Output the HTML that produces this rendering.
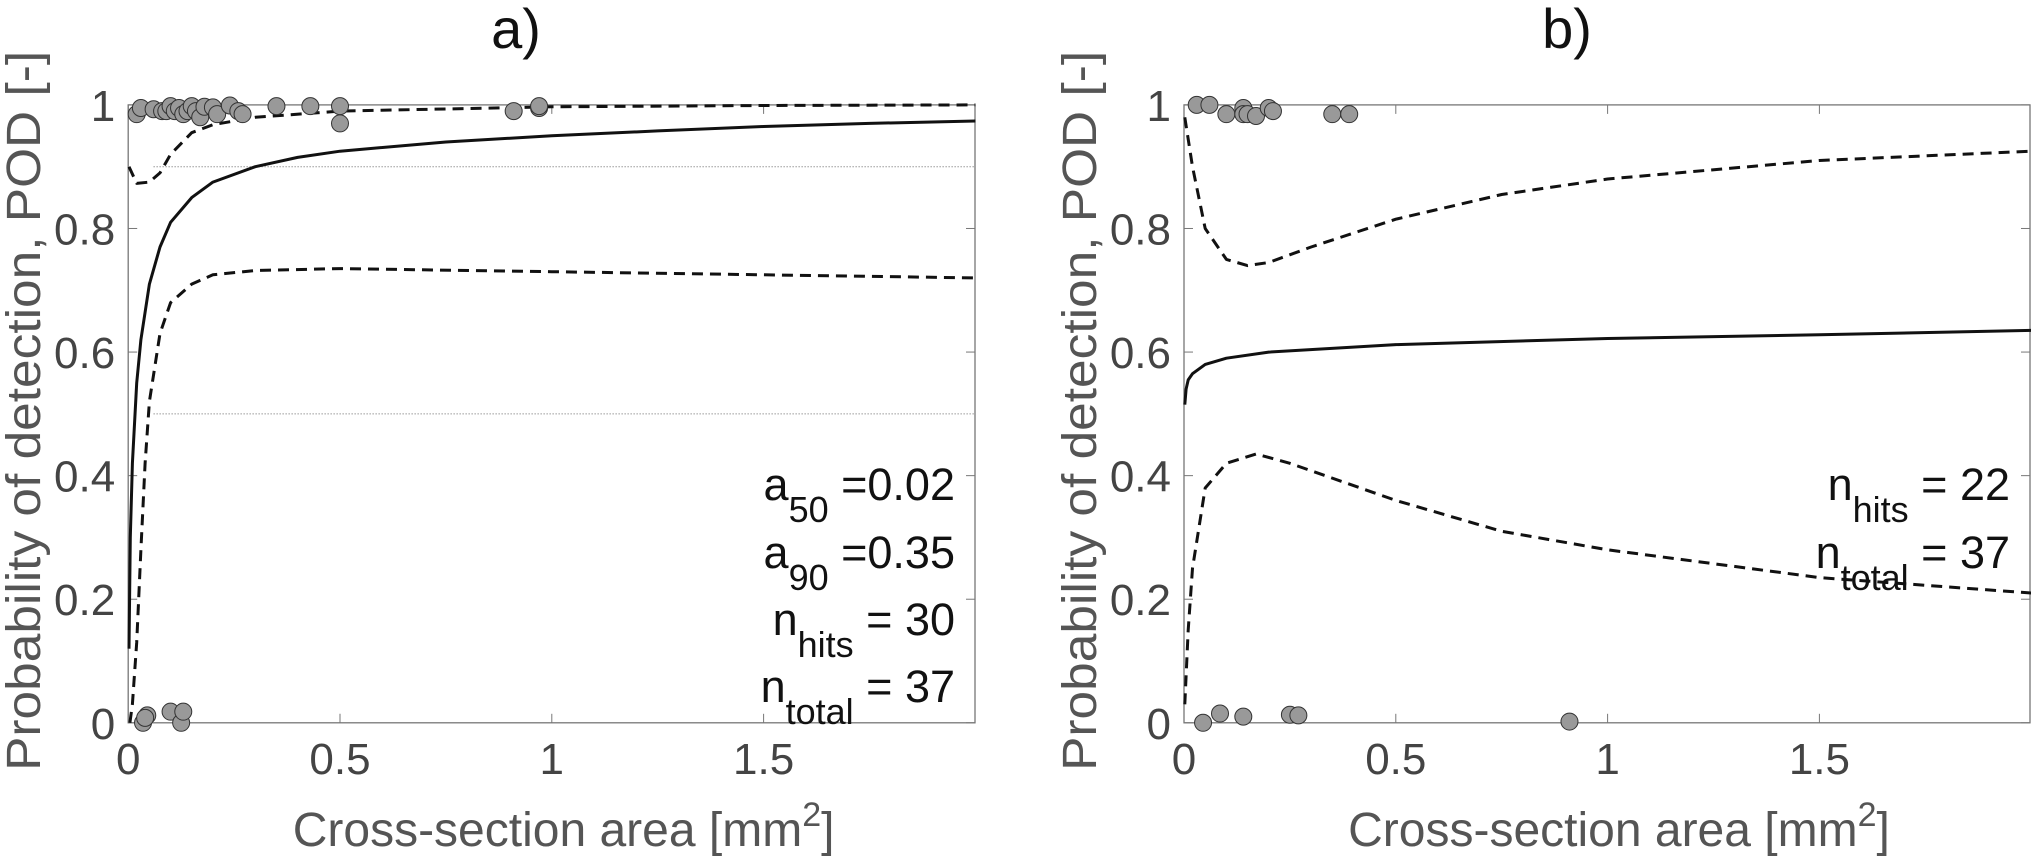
<!DOCTYPE html>
<html><head><meta charset="utf-8"><style>
html,body{margin:0;padding:0;background:#fff;}
svg{display:block;font-family:"Liberation Sans",sans-serif;}
</style></head><body>
<svg id="fig" width="2031" height="861" viewBox="0 0 2031 861"></svg>
<script>
const xTicks=[0,0.5,1,1.5];
const xTickLabels=["0","0.5","1","1.5"];
const yTicks=[0,0.2,0.4,0.6,0.8,1];
const yTickLabels=["0","0.2","0.4","0.6","0.8","1"];
const gridA=[0.5,0.9];

const aSolidX=[0.002,0.005,0.01,0.02,0.03,0.05,0.075,0.1,0.15,0.2,0.3,0.4,0.5,0.75,1,1.25,1.5,1.75,2];
const aSolidY=[0.12,0.3,0.42,0.55,0.62,0.71,0.77,0.81,0.85,0.875,0.9,0.915,0.925,0.94,0.95,0.958,0.965,0.97,0.974];
const aLowX=[0.004,0.01,0.02,0.03,0.04,0.05,0.075,0.1,0.15,0.2,0.3,0.5,1,1.5,2];
const aLowY=[0.0,0.03,0.13,0.28,0.42,0.52,0.63,0.68,0.71,0.725,0.732,0.735,0.73,0.725,0.72];
const aUpX=[0.002,0.02,0.05,0.075,0.1,0.15,0.2,0.3,0.5,1,1.5,2];
const aUpY=[0.9,0.873,0.875,0.89,0.92,0.955,0.968,0.98,0.99,0.997,0.999,1.0];
const aPtsX=[0.02,0.03,0.06,0.08,0.09,0.1,0.11,0.12,0.13,0.14,0.15,0.16,0.17,0.18,0.2,0.21,0.24,0.26,0.27,0.35,0.43,0.5,0.5,0.91,0.97,0.97,0.035,0.045,0.1,0.125,0.13,0.04];
const aPtsY=[0.985,0.995,0.993,0.99,0.99,0.998,0.99,0.995,0.985,0.99,0.998,0.99,0.98,0.997,0.996,0.985,0.999,0.99,0.985,0.998,0.998,0.998,0.97,0.99,0.995,0.998,0.0,0.012,0.018,0.0,0.018,0.008];

const bSolidX=[0.002,0.005,0.01,0.02,0.05,0.1,0.2,0.5,1,1.5,2];
const bSolidY=[0.515,0.54,0.555,0.565,0.58,0.59,0.6,0.612,0.622,0.628,0.635];
const bUpX=[0.002,0.02,0.05,0.1,0.15,0.2,0.3,0.5,0.75,1,1.5,2];
const bUpY=[0.98,0.9,0.8,0.75,0.74,0.745,0.77,0.815,0.855,0.88,0.91,0.925];
const bLowX=[0.002,0.01,0.02,0.05,0.1,0.17,0.25,0.5,0.75,1,1.5,2];
const bLowY=[0.03,0.15,0.25,0.38,0.42,0.435,0.42,0.36,0.31,0.28,0.235,0.21];
const bPtsX=[0.03,0.06,0.1,0.14,0.14,0.15,0.17,0.2,0.21,0.35,0.39,0.045,0.085,0.14,0.25,0.27,0.91];
const bPtsY=[1,1,0.985,0.995,0.985,0.985,0.982,0.995,0.99,0.985,0.985,0.0,0.015,0.01,0.013,0.012,0.002];

const NS="http://www.w3.org/2000/svg";
const svg=document.getElementById('fig');
function mk(t,a,p){const e=document.createElementNS(NS,t);for(const k in a)e.setAttribute(k,a[k]);(p||svg).appendChild(e);return e;}
const Y0=722.8,Y1=104.9;
function ys(v){return Y0-(Y0-Y1)*v;}
function panel(id,x0,right,title,titleX){
  const g=mk('g',{});
  
  
  const k=423.6;
  const xs=v=>x0+v*k;
  const o={g,xs,x0,right};
  const t=mk('text',{x:titleX,y:48,'font-size':56,'text-anchor':'middle',fill:'#111'},g);t.textContent=title;
  
  const ax=mk('rect',{x:x0,y:Y1,width:right-x0,height:Y0-Y1,fill:'none',stroke:'#777','stroke-width':1.3},g);
  
  xTicks.forEach((v,i)=>{
    mk('line',{x1:xs(v),x2:xs(v),y1:Y0,y2:Y0-9,stroke:'#777'},g);
    mk('line',{x1:xs(v),x2:xs(v),y1:Y1,y2:Y1+9,stroke:'#777'},g);
    const l=mk('text',{x:xs(v),y:774,'font-size':44,'text-anchor':'middle',fill:'#444'},g);l.textContent=xTickLabels[i];
    
  });
  yTicks.forEach((v,i)=>{
    mk('line',{x1:x0,x2:x0+9,y1:ys(v),y2:ys(v),stroke:'#777'},g);
    mk('line',{x1:right,x2:right-9,y1:ys(v),y2:ys(v),stroke:'#777'},g);
    const l=mk('text',{x:x0-13,y:ys(v)+16,'font-size':44,'text-anchor':'end',fill:'#444'},g);l.textContent=yTickLabels[i];
    
  });
  const xl=mk('text',{x:(x0+right)/2+12,y:846,'font-size':48,'text-anchor':'middle',fill:'#555'},g);
  xl.innerHTML='Cross-section area [mm<tspan dy="-20" font-size="34">2</tspan><tspan dy="20">]</tspan>';
  
  const yl=mk('text',{x:0,y:0,'font-size':48,'text-anchor':'middle',fill:'#555',textLength:720,lengthAdjust:'spacingAndGlyphs',transform:`translate(${x0-88},${(Y0+Y1)/2-3}) rotate(-90)`},g);
  yl.textContent='Probability of detection, POD [-]';
  
  return o;
}
function line(o,X,Y,dash,name){
  const d=X.map((x,i)=>(i?'L':'M')+o.xs(x).toFixed(1)+','+ys(Y[i]).toFixed(1)).join('');
  const p=mk('path',{d,fill:'none',stroke:'#111','stroke-width':3,'stroke-dasharray':dash?'11,7':'none','stroke-linejoin':'round'},o.g);
  
}
function pts(o,X,Y){
  X.forEach((x,i)=>{
    const c=mk('circle',{cx:o.xs(x),cy:ys(Y[i]),r:8.5,fill:'#999',stroke:'#333','stroke-width':1},o.g);
    
  });
}
function ann(o,xr,yb,main,sub,rest){
  const t=mk('text',{x:xr,y:yb,'font-size':45,'text-anchor':'end',fill:'#111'},o.g);
  t.innerHTML=`${main}<tspan dy="22" font-size="36">${sub}</tspan><tspan dy="-22">${rest}</tspan>`;
  
}
const A=panel('panel-a',128.2,975,'a)',516);
gridA.forEach(v=>{const l=mk('line',{x1:A.xs(0.06),x2:A.right,y1:ys(v),y2:ys(v),stroke:'#666','stroke-width':1,'stroke-dasharray':'1,2'},A.g);
  });
line(A,aSolidX,aSolidY,false,'pod-curve');
line(A,aLowX,aLowY,true,'lower-confidence');
line(A,aUpX,aUpY,true,'upper-confidence');
pts(A,aPtsX,aPtsY);
ann(A,955,500,'a','50',' =0.02');
ann(A,955,568,'a','90',' =0.35');
ann(A,955,635,'n','hits',' = 30');
ann(A,955,702,'n','total',' = 37');
const B=panel('panel-b',1184,2030,'b)',1567);
line(B,bSolidX,bSolidY,false,'pod-curve');
line(B,bUpX,bUpY,true,'upper-confidence');
line(B,bLowX,bLowY,true,'lower-confidence');
pts(B,bPtsX,bPtsY);
ann(B,2010,500,'n','hits',' = 22');
ann(B,2010,568,'n','total',' = 37');
</script>
</body></html>
